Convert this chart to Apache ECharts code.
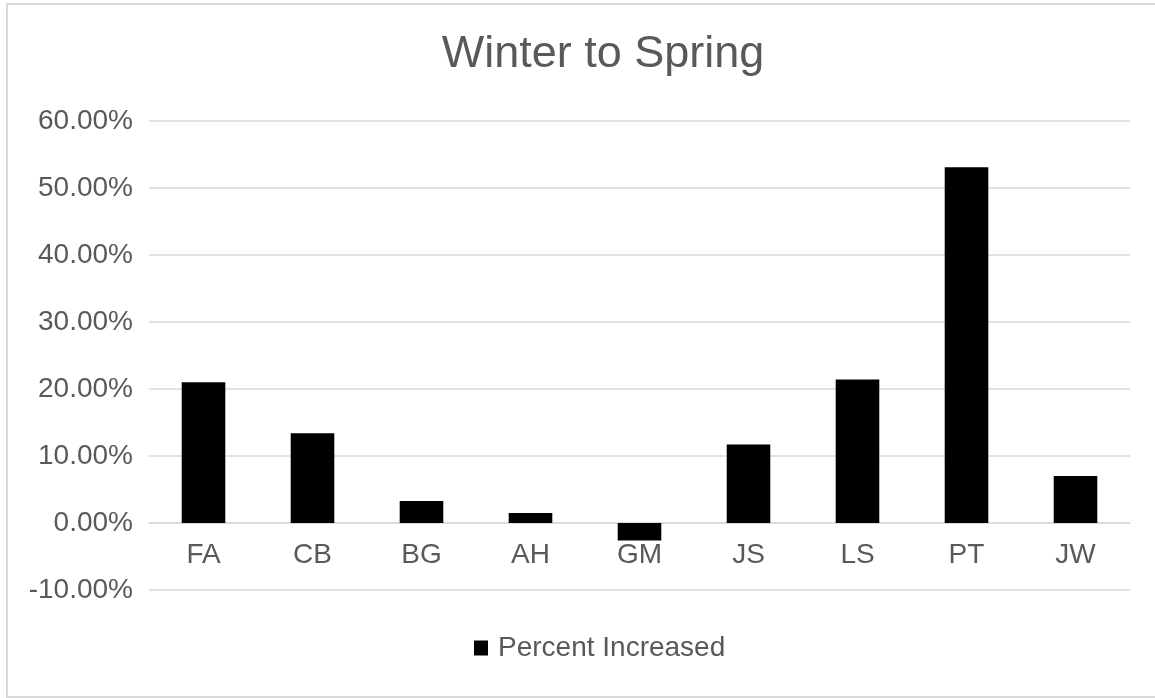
<!DOCTYPE html>
<html>
<head>
<meta charset="utf-8">
<title>Winter to Spring</title>
<script src="https://cdn.jsdelivr.net/npm/echarts@6/dist/echarts.min.js"></script>
<style>
  html, body { margin: 0; padding: 0; background: #ffffff; }
  #chart { width: 1155px; height: 698px; }
</style>
</head>
<body>
<div id="chart"></div>
<script>
// Students and their winter-to-spring change (fractions, 0.1 = 10%)
const categories = ['FA', 'CB', 'BG', 'AH', 'GM', 'JS', 'LS', 'PT', 'JW'];
const percentIncreased = [0.210, 0.134, 0.033, 0.015, -0.026, 0.117, 0.214, 0.531, 0.070];
const seriesName = 'Percent Increased';
const chartTitle = 'Winter to Spring';

const textGray = '#595959';
const gridGray = '#d9d9d9';
const fontFamily = '"Liberation Sans", Arial, Helvetica, sans-serif';

// value range of the y axis
const yMin = -0.1;
const yMax = 0.6;
const yStep = 0.1;

const gridTop = 121;
const gridBottom = 108;
const chartHeight = 698;
const gridHeight = chartHeight - gridTop - gridBottom;
// lift the category axis from the bottom edge up to the zero line
const zeroLift = gridHeight * (0 - yMin) / (yMax - yMin);

const chart = echarts.init(document.getElementById('chart'), null, { renderer: 'canvas' });

chart.setOption({
  animation: false,
  backgroundColor: '#ffffff',
  graphic: [{
    type: 'rect',
    shape: { x: 7, y: 4, width: 1152, height: 693 },
    style: { fill: 'none', stroke: gridGray, lineWidth: 2 },
    silent: true,
    z: -1
  }],
  title: {
    text: chartTitle,
    left: 598,
    top: 27,
    textAlign: 'center',
    textStyle: {
      color: textGray,
      fontFamily: fontFamily,
      fontSize: 45,
      fontWeight: 'normal'
    }
  },
  legend: {
    data: [seriesName],
    left: 469,
    top: 629,
    icon: 'rect',
    itemWidth: 14,
    itemHeight: 15,
    textStyle: {
      color: textGray,
      fontFamily: fontFamily,
      fontSize: 28,
      padding: [0, 0, 0, 5]
    }
  },
  grid: {
    left: 149,
    right: 25,
    top: gridTop,
    bottom: gridBottom,
    containLabel: false
  },
  xAxis: {
    type: 'category',
    data: categories,
    offset: -zeroLift,
    axisLine: { show: true, onZero: false, lineStyle: { color: gridGray, width: 1.5 } },
    axisTick: { show: false },
    axisLabel: {
      color: textGray,
      fontFamily: fontFamily,
      fontSize: 28,
      margin: 18
    }
  },
  yAxis: {
    type: 'value',
    min: yMin,
    max: yMax,
    interval: yStep,
    axisLine: { show: false },
    axisTick: { show: false },
    splitLine: { lineStyle: { color: gridGray, width: 1.5 } },
    axisLabel: {
      color: textGray,
      fontFamily: fontFamily,
      fontSize: 28,
      margin: 16,
      formatter: function (v) {
        return (Math.round(v * 1000) / 10).toFixed(2) + '%';
      }
    }
  },
  series: [{
    name: seriesName,
    type: 'bar',
    data: percentIncreased,
    barCategoryGap: '60%',
    itemStyle: { color: '#000000' }
  }]
});
</script>
</body>
</html>
